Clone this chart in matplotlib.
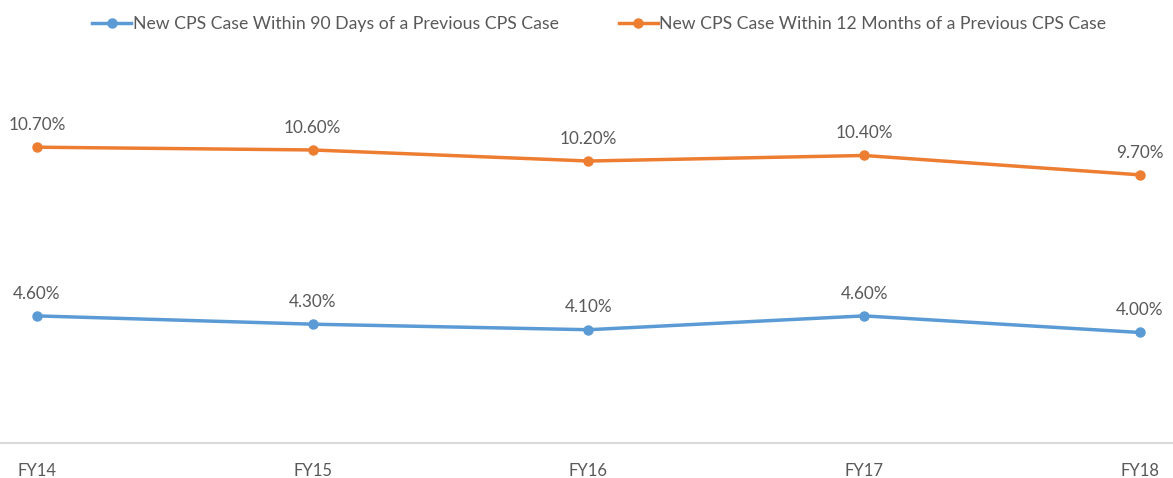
import matplotlib.pyplot as plt

years = ['FY14', 'FY15', 'FY16', 'FY17', 'FY18']
within_90_days = [4.6, 4.3, 4.1, 4.6, 4.0]
within_12_months = [10.7, 10.6, 10.2, 10.4, 9.7]

plt.rcParams['font.family'] = ['Lato', 'DejaVu Sans']
grey = '#595959'

fig = plt.figure(figsize=(11.73, 4.78), dpi=100)
ax = fig.add_axes([0, 0.073, 1, 0.81])

x = range(len(years))
ax.plot(x, within_90_days, color='#5B9BD5', lw=2.5, marker='o', ms=6.5,
        label='New CPS Case Within 90 Days of a Previous CPS Case')
ax.plot(x, within_12_months, color='#ED7D31', lw=2.5, marker='o', ms=6.5,
        label='New CPS Case Within 12 Months of a Previous CPS Case')

for series in (within_90_days, within_12_months):
    for i, v in enumerate(series):
        ax.annotate('{:.2f}%'.format(v), (i, v), xytext=(0, 16), textcoords='offset points',
                    ha='center', va='center', fontsize=12.3, color=grey)

ax.set_xlim(-0.134, 4.12)
ax.set_ylim(0, 14)
ax.set_xticks(list(x))
ax.set_xticklabels(years, fontsize=12, color=grey)
ax.tick_params(axis='x', length=0, pad=14)
ax.set_yticks([])
for s in ['top', 'left', 'right']:
    ax.spines[s].set_visible(False)
ax.spines['bottom'].set_color('#d9d9d9')
ax.spines['bottom'].set_linewidth(1.5)

leg = fig.legend(loc='upper center', bbox_to_anchor=(0.511, 1.0), ncol=2, frameon=False,
                 fontsize=12.7, handlelength=2.2, handletextpad=0.1, columnspacing=3.4)
for t in leg.get_texts():
    t.set_color(grey)

fig.savefig('out.png', dpi=100)
